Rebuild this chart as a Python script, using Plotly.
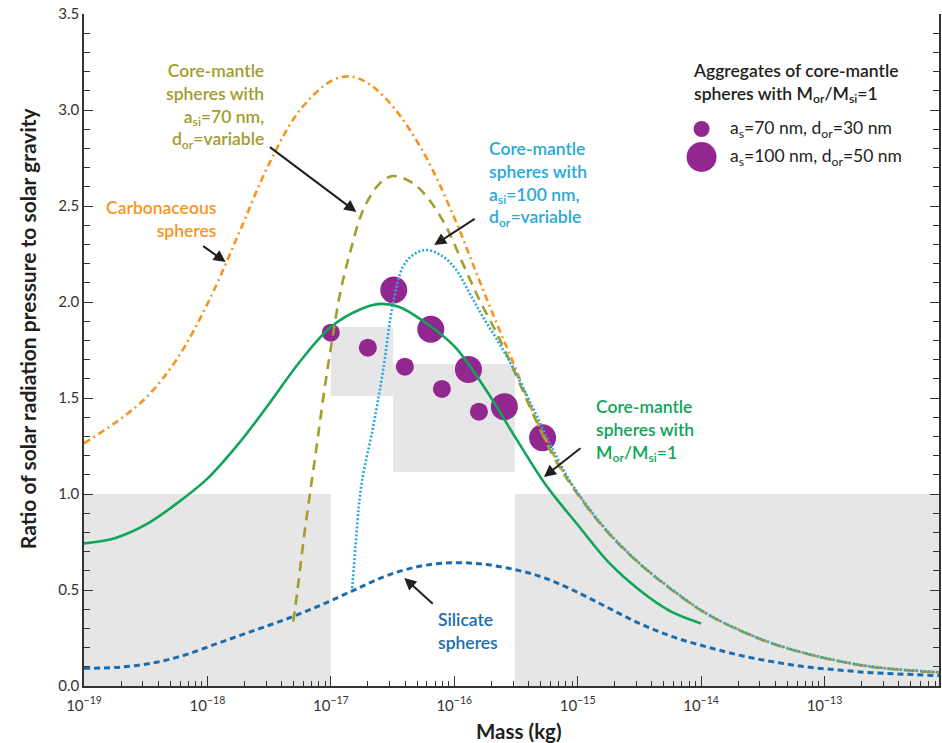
import plotly.graph_objects as go

# ---------------- data (log10 mass [kg], beta ratio) ----------------
carb_logm = [-19.0, -18.75, -18.5, -18.25, -18.0, -17.75, -17.5, -17.25, -17.0, -16.85,
             -16.7, -16.5, -16.25, -16.0, -15.82, -15.65, -15.5, -15.364, -15.2, -15.04,
             -14.77, -14.5, -14.232, -13.962, -13.693, -13.424, -13.154, -12.885, -12.615,
             -12.345, -12.07]
carb_beta = [1.264, 1.37, 1.50, 1.70, 1.99, 2.35, 2.72, 3.00, 3.15, 3.175,
             3.14, 3.02, 2.78, 2.44, 2.15, 1.88, 1.65, 1.43, 1.21, 1.04,
             0.8125, 0.639, 0.50, 0.379, 0.292, 0.222, 0.170, 0.13, 0.10,
             0.083, 0.071]

cm70_logm = [-17.304, -17.27, -17.217, -17.163, -17.11, -17.056, -16.99, -16.92, -16.846, -16.738,
             -16.603, -16.496, -16.334, -16.2, -16.064, -15.93, -15.795, -15.65, -15.5, -15.364,
             -15.2, -15.04, -14.77, -14.5, -14.232, -13.962, -13.693, -13.424, -13.154, -12.885,
             -12.615, -12.345, -12.07]
cm70_beta = [0.335, 0.50, 0.778, 1.03, 1.27, 1.525, 1.80, 2.06, 2.253, 2.479,
             2.618, 2.656, 2.618, 2.53, 2.39, 2.20, 2.01, 1.83, 1.62, 1.42,
             1.20, 1.035, 0.81, 0.637, 0.498, 0.378, 0.291, 0.221, 0.169, 0.129,
             0.099, 0.082, 0.070]

cm100_logm = [-16.827, -16.80, -16.773, -16.746, -16.657, -16.576, -16.496, -16.415, -16.334, -16.226,
              -16.09, -15.983, -15.875, -15.768, -15.65, -15.525, -15.364, -15.2, -15.04, -14.77,
              -14.5, -14.232, -13.962, -13.693, -13.424, -13.154, -12.885, -12.615, -12.345, -12.07]
cm100_beta = [0.509, 0.726, 0.934, 1.073, 1.35, 1.646, 1.993, 2.184, 2.245, 2.271,
              2.236, 2.167, 2.045, 1.923, 1.80, 1.66, 1.45, 1.23, 1.045, 0.815,
              0.64, 0.501, 0.380, 0.293, 0.223, 0.171, 0.131, 0.101, 0.084, 0.072]

cm1_logm = [-19.0, -18.75, -18.5, -18.25, -18.0, -17.75, -17.5, -17.25, -17.0, -16.75,
            -16.6, -16.45, -16.25, -16.0, -15.75, -15.5, -15.25, -15.0, -14.75, -14.5,
            -14.25, -14.0]
cm1_beta = [0.743, 0.77, 0.84, 0.95, 1.08, 1.26, 1.47, 1.69, 1.87, 1.965,
            1.99, 1.975, 1.90, 1.77, 1.55, 1.29, 1.04, 0.84, 0.645, 0.50,
            0.39, 0.326]

sil_logm = [-19.0, -18.73, -18.457, -18.19, -17.918, -17.65, -17.38, -17.11, -16.84, -16.57,
            -16.3, -16.03, -15.762, -15.493, -15.277, -15.04, -14.77, -14.5, -14.232, -13.962,
            -13.693, -13.424, -13.154, -12.885, -12.615, -12.345, -12.07]
sil_beta = [0.092, 0.097, 0.118, 0.16, 0.222, 0.283, 0.344, 0.413, 0.491, 0.569,
            0.621, 0.642, 0.634, 0.604, 0.565, 0.50, 0.413, 0.326, 0.257, 0.205,
            0.161, 0.127, 0.10, 0.083, 0.069, 0.061, 0.054]

agg_small_logm = [-17.0, -16.70, -16.40, -16.10, -15.80]
agg_small_beta = [1.84, 1.762, 1.663, 1.547, 1.429]
agg_large_logm = [-16.49, -16.19, -15.885, -15.594, -15.284]
agg_large_beta = [2.0625, 1.858, 1.649, 1.455, 1.293]

# shaded regions (mass kg, beta)
box_m0 = [1e-19, 3.1e-16, 1e-17, 3.2e-17]
box_m1 = [1e-17, 1.2e-12, 3.2e-17, 3.1e-16]
box_b0 = [0.0, 0.0, 1.51, 1.115]
box_b1 = [1.0, 1.0, 1.87, 1.677]

x_tickvals = [1e-19, 1e-18, 1e-17, 1e-16, 1e-15, 1e-14, 1e-13]
x_ticktext = ["10<sup>−19</sup>", "10<sup>−18</sup>", "10<sup>−17</sup>", "10<sup>−16</sup>",
              "10<sup>−15</sup>", "10<sup>−14</sup>", "10<sup>−13</sup>"]
y_tickvals = [0.0, 0.5, 1.0, 1.5, 2.0, 2.5, 3.0, 3.5]

# ---------------- colours ----------------
C_ORANGE = "#F7941D"
C_OLIVE = "#A19E2C"
C_CYAN = "#27A9DC"
C_GREEN = "#0FA558"
C_BLUE = "#1C6DAE"
C_PURPLE = "#92278F"
C_GRAY = "#E6E6E6"
C_AXIS = "#333333"

FONT = "Lato"

def m(logs):
    return [10 ** v for v in logs]

fig = go.Figure()

# shaded boxes
for a, b, c, d in zip(box_m0, box_m1, box_b0, box_b1):
    fig.add_trace(go.Scatter(x=[a, b, b, a, a], y=[c, c, d, d, c], mode="lines",
                             fill="toself", fillcolor=C_GRAY, line=dict(width=0),
                             hoverinfo="skip", showlegend=False))

# aggregates
fig.add_trace(go.Scatter(x=m(agg_small_logm), y=agg_small_beta, mode="markers",
                         name="a<sub>s</sub>=70 nm, d<sub>or</sub>=30 nm",
                         marker=dict(size=18, color=C_PURPLE, line=dict(width=0))))
fig.add_trace(go.Scatter(x=m(agg_large_logm), y=agg_large_beta, mode="markers",
                         name="a<sub>s</sub>=100 nm, d<sub>or</sub>=50 nm",
                         marker=dict(size=27, color=C_PURPLE, line=dict(width=0))))

# curves
fig.add_trace(go.Scatter(x=m(sil_logm), y=sil_beta, mode="lines", name="Silicate spheres",
                         line=dict(color=C_BLUE, width=3, dash="6px,4px", shape="spline")))
fig.add_trace(go.Scatter(x=m(cm1_logm), y=cm1_beta, mode="lines", name="Core-mantle Mor/Msi=1",
                         line=dict(color=C_GREEN, width=2.6, shape="spline")))
fig.add_trace(go.Scatter(x=m(carb_logm), y=carb_beta, mode="lines", name="Carbonaceous spheres",
                         line=dict(color=C_ORANGE, width=2.6, dash="7px,4px,2px,4px", shape="spline")))
fig.add_trace(go.Scatter(x=m(cm70_logm), y=cm70_beta, mode="lines", name="Core-mantle asi=70 nm",
                         line=dict(color=C_OLIVE, width=2.6, dash="10px,7px", shape="spline")))
fig.add_trace(go.Scatter(x=m(cm100_logm), y=cm100_beta, mode="lines", name="Core-mantle asi=100 nm",
                         line=dict(color=C_CYAN, width=2.6, dash="2px,2px", shape="spline")))

W, H = 942, 743
L, R, T, B = 84, 1, 14, 57
PW, PH = W - L - R, H - T - B

def px(xp):
    return (xp - L) / PW

def py(yp):
    return (H - B - yp) / PH

annots = []
def text(s, xp, yp, color, xanchor="left", align="left", size=17.5, weight=600):
    annots.append(dict(text=s, x=px(xp), y=py(yp), xref="paper", yref="paper",
                       xanchor=xanchor, yanchor="middle", align=align, showarrow=False,
                       font=dict(family=FONT, size=size, color=color, weight=weight)))

def arrow(hx, hy, tx, ty):
    annots.append(dict(text="", x=px(hx), y=py(hy), xref="paper", yref="paper",
                       ax=tx - hx, ay=ty - hy, showarrow=True, arrowhead=2, arrowsize=1.2,
                       arrowwidth=2, arrowcolor="#231F20"))

text("Core-mantle<br>spheres with<br>a<sub>si</sub>=70 nm,<br>d<sub>or</sub>=variable", 266, 106,
     C_OLIVE, xanchor="right", align="right")
text("Carbonaceous<br>spheres", 219, 219, C_ORANGE, xanchor="right", align="right")
text("Core-mantle<br>spheres with<br>a<sub>si</sub>=100 nm,<br>d<sub>or</sub>=variable", 488, 183.5, C_CYAN)
text("Core-mantle<br>spheres with<br>M<sub>or</sub>/M<sub>si</sub>=1", 595, 430, C_GREEN)
text("Silicate<br>spheres", 437, 630.5, C_BLUE)
text("Aggregates of core-mantle<br>spheres with M<sub>or</sub>/M<sub>si</sub>=1", 692, 83, "#231F20", size=17.5)
text("a<sub>s</sub>=70 nm, d<sub>or</sub>=30 nm", 730, 129, "#231F20", size=17.5, weight=400)
text("a<sub>s</sub>=100 nm, d<sub>or</sub>=50 nm", 730, 157, "#231F20", size=17.5, weight=400)

arrow(357, 212, 269, 146)
arrow(226, 262, 202, 245)
arrow(435, 245, 477, 218)
arrow(545, 477, 583, 447)
arrow(405, 578, 435, 605)

# axis titles
annots.append(dict(text="Ratio of solar radiation pressure to solar gravity", x=px(27), y=py(328),
                   xref="paper", yref="paper", textangle=-90, showarrow=False,
                   xanchor="center", yanchor="middle",
                   font=dict(family=FONT, size=21, color="#231F20", weight=700)))
annots.append(dict(text="Mass (kg)", x=px(520), y=py(731), xref="paper", yref="paper",
                   showarrow=False, xanchor="center", yanchor="middle",
                   font=dict(family=FONT, size=20.5, color="#231F20", weight=700)))

# legend circles (decorative key)
shapes = []
for cy, d in [(129, 16), (157, 30)]:
    shapes.append(dict(type="circle", xref="paper", yref="paper", xsizemode="pixel", ysizemode="pixel",
                       xanchor=px(703), yanchor=py(cy), x0=-d / 2, x1=d / 2, y0=-d / 2, y1=d / 2,
                       fillcolor=C_PURPLE, line=dict(width=0)))

fig.update_layout(width=W, height=H, margin=dict(l=L, r=R, t=T, b=B),
                  plot_bgcolor="white", paper_bgcolor="white", showlegend=False,
                  annotations=annots, shapes=shapes,
                  font=dict(family=FONT, color=C_AXIS))

fig.update_xaxes(type="log", range=[-19, -12.072], tickmode="array", tickvals=x_tickvals,
                 ticktext=x_ticktext, ticks="inside", ticklen=10, tickwidth=1, tickcolor=C_AXIS,
                 showline=True, linecolor=C_AXIS, linewidth=1.5, showgrid=False, zeroline=False,
                 ticklabelstandoff=5,
                 minor=dict(ticks="inside", ticklen=5, tickwidth=1, tickcolor=C_AXIS, dtick="D1", showgrid=False),
                 tickfont=dict(family=FONT, size=15, color=C_AXIS))
fig.update_yaxes(range=[0, 3.5], tickmode="array", tickvals=y_tickvals, tickformat=".1f",
                 ticks="inside", ticklen=9, tickwidth=1, tickcolor=C_AXIS,
                 showline=True, mirror="ticks", linecolor=C_AXIS, linewidth=1.5,
                 showgrid=False, zeroline=False,
                 minor=dict(ticks="inside", ticklen=6, tickwidth=1, tickcolor=C_AXIS, dtick=0.1, showgrid=False),
                 tickfont=dict(family=FONT, size=15, color=C_AXIS))

fig.write_html("out.html")
